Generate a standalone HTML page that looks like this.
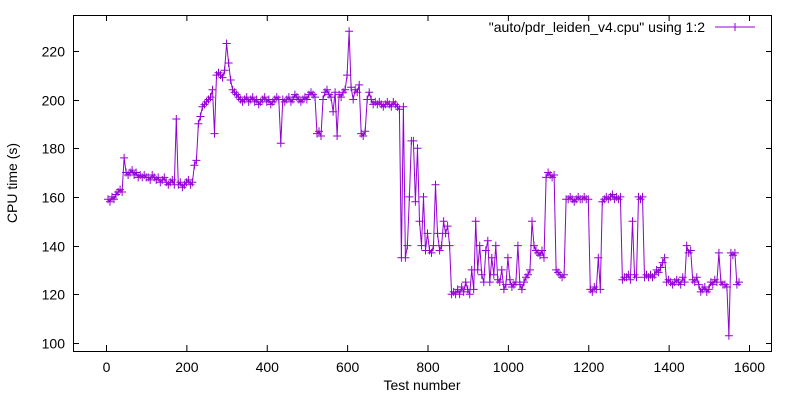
<!DOCTYPE html>
<html><head><meta charset="utf-8"><style>
body{margin:0;background:#fff}
svg{display:block;font-family:"Liberation Sans",sans-serif}
</style></head><body>
<svg id="chart" width="800" height="400">
<rect x="0" y="0" width="800" height="400" fill="#fff"/>
<g id="grid"></g>
<g id="series"></g>
<rect x="73.5" y="15.5" width="698" height="336" fill="none" stroke="#000" stroke-width="1"/>
<text transform="translate(17,183) rotate(-90)" text-anchor="middle" font-size="14">CPU time (s)</text>
<text x="422" y="390" text-anchor="middle" font-size="14">Test number</text>
<g>
<text x="705" y="32" text-anchor="end" font-size="14">"auto/pdr_leiden_v4.cpu" using 1:2</text>
<line x1="715" y1="27" x2="755" y2="27" stroke="#9400d3" stroke-width="1"/>
<path d="M731,27h8M735,23v8" stroke="#9400d3" stroke-width="1"/>
</g>
</svg>
<script>
const xTicks=[0,200,400,600,800,1000,1200,1400,1600];
const yTicks=[100,120,140,160,180,200,220];
const xStart=5, xStep=5;
const cpuTimes=[
159,158,160,159,161,162,163,162,
176,170,169,170,171,169,170,168,169,168,169,
168,168,167,169,168,167,168,166,167,168,166,165,166,167,165,192,165,166,164,165,166,167,165,166,
173,175,
190,193,197,198,199,200,201,
204,186,210,211,210,209,212,223,215,208,204,203,202,201,200,199,
200,201,199,200,201,199,200,198,199,200,201,199,200,198,199,200,201,200,
182,
200,199,200,201,199,200,202,201,200,199,200,201,200,202,203,202,201,
186,187,185,
200,203,204,202,201,195,203,185,202,201,203,204,210,
228,205,200,204,203,206,
186,185,187,
200,203,200,198,199,198,199,198,197,198,199,198,197,199,198,197,196,
135,197,135,140,160,183,183,158,180,150,140,160,138,145,
138,137,140,165,145,138,140,150,145,148,140,
120,121,120,122,120,123,121,125,122,120,130,122,150,
130,140,128,125,138,142,125,135,128,140,126,125,130,122,124,135,
126,123,124,125,140,124,122,125,127,128,130,150,
140,138,137,136,138,135,168,
170,169,168,169,
130,129,128,127,128,
159,159,160,159,158,159,160,159,159,160,159,159,
122,121,123,122,135,122,
158,159,160,159,160,161,159,160,159,160,
126,127,127,128,126,150,128,127,
160,159,160,
127,128,127,128,127,128,130,129,131,133,135,
125,126,125,124,125,126,125,124,127,125,140,137,138,126,125,127,124,
121,122,123,121,122,
125,124,126,125,137,125,124,124,123,
103,137,136,137,124,125
];
const NS="http://www.w3.org/2000/svg";
function sx(v){return 106+v*(643/1600);}
function sy(v){return 343-(v-100)*(48.7/20);}
const grid=document.getElementById('grid');
function mk(tag,attrs,parent){const e=document.createElementNS(NS,tag);for(const k in attrs)e.setAttribute(k,attrs[k]);parent.appendChild(e);return e;}
xTicks.forEach(t=>{
  const x=sx(t)+0.5;
  const tk=mk('path',{d:`M${x},351V345M${x},15V21`,stroke:'#000'},grid);
  
  
  const lb=mk('text',{x:x,y:372,'text-anchor':'middle','font-size':'14'},grid);
  lb.textContent=t;
  
  
});
yTicks.forEach(t=>{
  const y=Math.round(sy(t))+0.5;
  const tk=mk('path',{d:`M73,${y}H79M772,${y}H766`,stroke:'#000'},grid);
  
  
  const lb=mk('text',{x:65,y:y+5,'text-anchor':'end','font-size':'14'},grid);
  lb.textContent=t;
  
  
});
const series=document.getElementById('series');
let d='',m='';
cpuTimes.forEach((v,i)=>{
  const x=sx(xStart+i*xStep), y=sy(v);
  d+=(i?'L':'M')+x.toFixed(1)+','+y.toFixed(1);
  m+=`M${(x-4).toFixed(1)},${y.toFixed(1)}h8M${x.toFixed(1)},${(y-4).toFixed(1)}v8`;
});
const line=mk('path',{d:d,fill:'none',stroke:'#9400d3','stroke-width':'1'},series);


const marks=mk('path',{d:m,fill:'none',stroke:'#9400d3','stroke-width':'1'},series);


</script>
</body></html>
